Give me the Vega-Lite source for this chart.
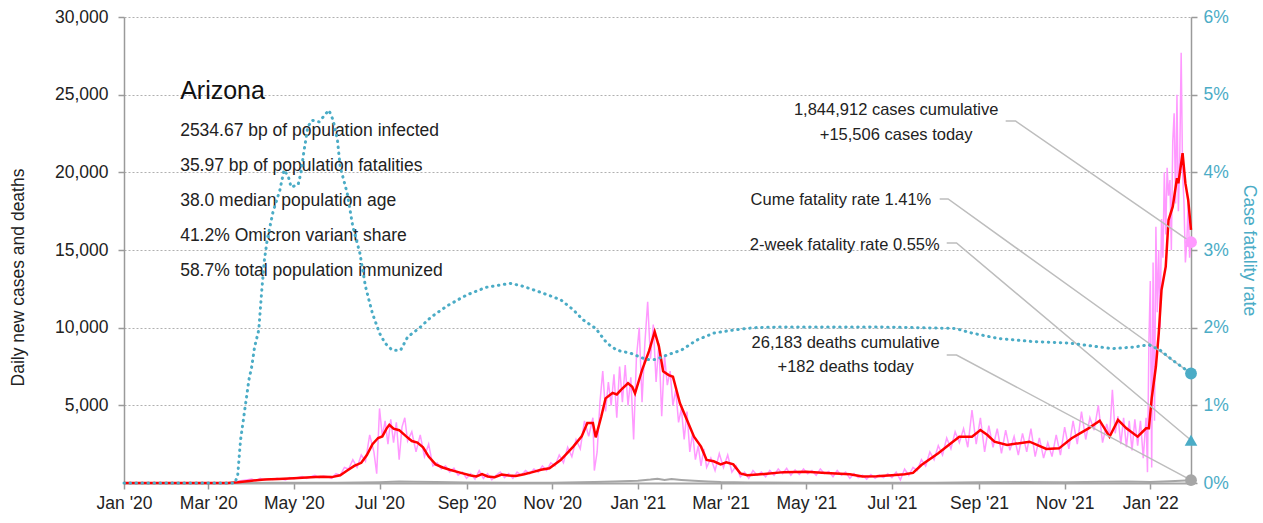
{
  "$schema": "https://vega.github.io/schema/vega-lite/v6.json",
  "width": 1067,
  "height": 466,
  "autosize": {"type": "none"},
  "padding": {"left": 124, "top": 17, "right": 72, "bottom": 40},
  "background": "white",
  "config": {
    "view": {"stroke": null},
    "font": "Liberation Sans, Arial, sans-serif",
    "axis": {"labelFont": "Liberation Sans, Arial, sans-serif", "titleFont": "Liberation Sans, Arial, sans-serif", "labelColor": "#222222", "titleColor": "#222222", "titleFontWeight": "normal"}
  },
  "datasets": {
    "cases": [
      {"d":"2020-01-01","v":0},{"d":"2020-03-12","v":0},{"d":"2020-03-16","v":10},{"d":"2020-03-20","v":40},{"d":"2020-03-24","v":150},{"d":"2020-03-28","v":200},{"d":"2020-04-01","v":250},{"d":"2020-04-04","v":150},{"d":"2020-04-07","v":300},{"d":"2020-04-10","v":200},{"d":"2020-04-13","v":280},{"d":"2020-04-16","v":220},{"d":"2020-04-19","v":300},{"d":"2020-04-22","v":250},{"d":"2020-04-25","v":200},{"d":"2020-04-28","v":350},{"d":"2020-05-01","v":280},{"d":"2020-05-04","v":350},{"d":"2020-05-07","v":420},{"d":"2020-05-10","v":300},{"d":"2020-05-13","v":400},{"d":"2020-05-16","v":500},{"d":"2020-05-19","v":350},{"d":"2020-05-22","v":450},{"d":"2020-05-25","v":400},{"d":"2020-05-28","v":300},{"d":"2020-05-31","v":600},{"d":"2020-06-03","v":500},{"d":"2020-06-06","v":1000},{"d":"2020-06-09","v":900},{"d":"2020-06-12","v":1500},{"d":"2020-06-15","v":1000},{"d":"2020-06-18","v":1800},{"d":"2020-06-21","v":1400},{"d":"2020-06-24","v":3100},{"d":"2020-06-27","v":2000},{"d":"2020-06-29","v":600},{"d":"2020-07-01","v":4800},{"d":"2020-07-03","v":3000},{"d":"2020-07-05","v":4000},{"d":"2020-07-07","v":2500},{"d":"2020-07-09","v":4100},{"d":"2020-07-11","v":2600},{"d":"2020-07-13","v":3900},{"d":"2020-07-15","v":1500},{"d":"2020-07-17","v":3600},{"d":"2020-07-19","v":4200},{"d":"2020-07-21","v":2700},{"d":"2020-07-24","v":3300},{"d":"2020-07-27","v":2000},{"d":"2020-07-30","v":3100},{"d":"2020-08-02","v":1700},{"d":"2020-08-05","v":2500},{"d":"2020-08-08","v":1100},{"d":"2020-08-11","v":1300},{"d":"2020-08-14","v":900},{"d":"2020-08-17","v":1100},{"d":"2020-08-20","v":700},{"d":"2020-08-23","v":950},{"d":"2020-08-26","v":500},{"d":"2020-08-29","v":700},{"d":"2020-09-01","v":300},{"d":"2020-09-04","v":600},{"d":"2020-09-07","v":250},{"d":"2020-09-10","v":800},{"d":"2020-09-13","v":300},{"d":"2020-09-16","v":600},{"d":"2020-09-19","v":200},{"d":"2020-09-22","v":500},{"d":"2020-09-25","v":700},{"d":"2020-09-28","v":350},{"d":"2020-10-01","v":600},{"d":"2020-10-04","v":300},{"d":"2020-10-07","v":700},{"d":"2020-10-10","v":500},{"d":"2020-10-13","v":800},{"d":"2020-10-16","v":600},{"d":"2020-10-19","v":900},{"d":"2020-10-22","v":700},{"d":"2020-10-25","v":1100},{"d":"2020-10-28","v":800},{"d":"2020-10-31","v":1300},{"d":"2020-11-03","v":1100},{"d":"2020-11-06","v":1800},{"d":"2020-11-09","v":1300},{"d":"2020-11-12","v":2300},{"d":"2020-11-15","v":1700},{"d":"2020-11-18","v":2800},{"d":"2020-11-21","v":2200},{"d":"2020-11-24","v":4000},{"d":"2020-11-27","v":3000},{"d":"2020-11-30","v":4200},{"d":"2020-12-01","v":800},{"d":"2020-12-03","v":2000},{"d":"2020-12-05","v":5200},{"d":"2020-12-07","v":7200},{"d":"2020-12-09","v":4600},{"d":"2020-12-11","v":6500},{"d":"2020-12-13","v":5000},{"d":"2020-12-15","v":7000},{"d":"2020-12-17","v":4200},{"d":"2020-12-19","v":7500},{"d":"2020-12-21","v":5200},{"d":"2020-12-23","v":7600},{"d":"2020-12-25","v":5000},{"d":"2020-12-27","v":6800},{"d":"2020-12-29","v":2800},{"d":"2020-12-31","v":8100},{"d":"2021-01-02","v":10000},{"d":"2021-01-04","v":5200},{"d":"2021-01-06","v":9000},{"d":"2021-01-08","v":11670},{"d":"2021-01-10","v":8000},{"d":"2021-01-12","v":10200},{"d":"2021-01-14","v":6500},{"d":"2021-01-16","v":9000},{"d":"2021-01-18","v":4300},{"d":"2021-01-20","v":8200},{"d":"2021-01-22","v":6300},{"d":"2021-01-24","v":7200},{"d":"2021-01-26","v":5000},{"d":"2021-01-28","v":6000},{"d":"2021-01-30","v":3900},{"d":"2021-02-01","v":4800},{"d":"2021-02-03","v":2800},{"d":"2021-02-05","v":4600},{"d":"2021-02-07","v":2000},{"d":"2021-02-09","v":3200},{"d":"2021-02-11","v":1500},{"d":"2021-02-13","v":2400},{"d":"2021-02-15","v":1100},{"d":"2021-02-17","v":2200},{"d":"2021-02-19","v":1000},{"d":"2021-02-22","v":1600},{"d":"2021-02-25","v":800},{"d":"2021-02-28","v":1900},{"d":"2021-03-03","v":1000},{"d":"2021-03-06","v":1800},{"d":"2021-03-09","v":700},{"d":"2021-03-12","v":1100},{"d":"2021-03-15","v":400},{"d":"2021-03-18","v":700},{"d":"2021-03-21","v":300},{"d":"2021-03-24","v":800},{"d":"2021-03-27","v":500},{"d":"2021-03-30","v":700},{"d":"2021-04-02","v":400},{"d":"2021-04-05","v":800},{"d":"2021-04-08","v":500},{"d":"2021-04-11","v":900},{"d":"2021-04-14","v":600},{"d":"2021-04-17","v":950},{"d":"2021-04-20","v":500},{"d":"2021-04-23","v":850},{"d":"2021-04-26","v":550},{"d":"2021-04-29","v":900},{"d":"2021-05-02","v":600},{"d":"2021-05-05","v":800},{"d":"2021-05-08","v":500},{"d":"2021-05-11","v":900},{"d":"2021-05-14","v":600},{"d":"2021-05-17","v":750},{"d":"2021-05-20","v":400},{"d":"2021-05-23","v":800},{"d":"2021-05-26","v":500},{"d":"2021-05-29","v":700},{"d":"2021-06-01","v":300},{"d":"2021-06-04","v":600},{"d":"2021-06-07","v":350},{"d":"2021-06-10","v":500},{"d":"2021-06-13","v":250},{"d":"2021-06-16","v":550},{"d":"2021-06-19","v":300},{"d":"2021-06-22","v":500},{"d":"2021-06-25","v":350},{"d":"2021-06-28","v":600},{"d":"2021-07-01","v":350},{"d":"2021-07-04","v":700},{"d":"2021-07-07","v":200},{"d":"2021-07-10","v":900},{"d":"2021-07-13","v":500},{"d":"2021-07-16","v":1000},{"d":"2021-07-19","v":800},{"d":"2021-07-22","v":1500},{"d":"2021-07-25","v":1100},{"d":"2021-07-28","v":2000},{"d":"2021-07-31","v":1500},{"d":"2021-08-03","v":2400},{"d":"2021-08-06","v":1800},{"d":"2021-08-09","v":2900},{"d":"2021-08-12","v":2200},{"d":"2021-08-15","v":3300},{"d":"2021-08-18","v":2600},{"d":"2021-08-21","v":3500},{"d":"2021-08-24","v":2300},{"d":"2021-08-27","v":4700},{"d":"2021-08-30","v":2500},{"d":"2021-09-02","v":4200},{"d":"2021-09-05","v":2000},{"d":"2021-09-08","v":3700},{"d":"2021-09-11","v":2300},{"d":"2021-09-14","v":3500},{"d":"2021-09-17","v":1900},{"d":"2021-09-20","v":3400},{"d":"2021-09-23","v":2100},{"d":"2021-09-26","v":3000},{"d":"2021-09-29","v":1800},{"d":"2021-10-02","v":3200},{"d":"2021-10-05","v":2000},{"d":"2021-10-08","v":3500},{"d":"2021-10-11","v":1700},{"d":"2021-10-14","v":2900},{"d":"2021-10-17","v":1600},{"d":"2021-10-20","v":2600},{"d":"2021-10-23","v":1700},{"d":"2021-10-26","v":3100},{"d":"2021-10-29","v":1800},{"d":"2021-11-01","v":3600},{"d":"2021-11-04","v":2200},{"d":"2021-11-07","v":4000},{"d":"2021-11-10","v":2500},{"d":"2021-11-13","v":4600},{"d":"2021-11-16","v":2800},{"d":"2021-11-19","v":4200},{"d":"2021-11-22","v":3400},{"d":"2021-11-25","v":5000},{"d":"2021-11-28","v":2600},{"d":"2021-12-01","v":3800},{"d":"2021-12-03","v":3000},{"d":"2021-12-05","v":6000},{"d":"2021-12-07","v":3200},{"d":"2021-12-09","v":4300},{"d":"2021-12-11","v":2500},{"d":"2021-12-13","v":4200},{"d":"2021-12-15","v":2300},{"d":"2021-12-17","v":4000},{"d":"2021-12-19","v":2100},{"d":"2021-12-21","v":4100},{"d":"2021-12-23","v":2400},{"d":"2021-12-25","v":4000},{"d":"2021-12-27","v":1600},{"d":"2021-12-29","v":4200},{"d":"2021-12-30","v":700},{"d":"2021-12-31","v":9000},{"d":"2022-01-01","v":13000},{"d":"2022-01-02","v":1000},{"d":"2022-01-03","v":14200},{"d":"2022-01-04","v":4000},{"d":"2022-01-05","v":16500},{"d":"2022-01-06","v":11000},{"d":"2022-01-07","v":15000},{"d":"2022-01-08","v":10000},{"d":"2022-01-09","v":17000},{"d":"2022-01-10","v":14500},{"d":"2022-01-11","v":20000},{"d":"2022-01-12","v":16000},{"d":"2022-01-13","v":20300},{"d":"2022-01-14","v":18500},{"d":"2022-01-15","v":19500},{"d":"2022-01-16","v":15000},{"d":"2022-01-17","v":22000},{"d":"2022-01-18","v":23800},{"d":"2022-01-19","v":18000},{"d":"2022-01-20","v":25000},{"d":"2022-01-21","v":17500},{"d":"2022-01-22","v":21000},{"d":"2022-01-23","v":27700},{"d":"2022-01-24","v":20000},{"d":"2022-01-25","v":18000},{"d":"2022-01-26","v":14200},{"d":"2022-01-27","v":15500},{"d":"2022-01-28","v":18000},{"d":"2022-01-29","v":14500},{"d":"2022-01-30","v":15506}
    ],
    "avg": [
      {"d":"2020-01-01","v":0},{"d":"2020-03-15","v":0},{"d":"2020-03-22","v":50},{"d":"2020-04-01","v":150},{"d":"2020-04-10","v":220},{"d":"2020-04-20","v":250},{"d":"2020-05-01","v":300},{"d":"2020-05-10","v":350},{"d":"2020-05-20","v":400},{"d":"2020-05-28","v":380},{"d":"2020-06-03","v":500},{"d":"2020-06-08","v":800},{"d":"2020-06-13","v":1100},{"d":"2020-06-18","v":1300},{"d":"2020-06-22","v":1800},{"d":"2020-06-26","v":2500},{"d":"2020-06-30","v":2900},{"d":"2020-07-03","v":3000},{"d":"2020-07-06","v":3500},{"d":"2020-07-08","v":3750},{"d":"2020-07-11","v":3500},{"d":"2020-07-15","v":3400},{"d":"2020-07-20","v":3000},{"d":"2020-07-24","v":2700},{"d":"2020-07-28","v":2600},{"d":"2020-08-01","v":2300},{"d":"2020-08-05","v":1700},{"d":"2020-08-10","v":1200},{"d":"2020-08-15","v":1000},{"d":"2020-08-20","v":850},{"d":"2020-08-28","v":650},{"d":"2020-09-04","v":480},{"d":"2020-09-08","v":420},{"d":"2020-09-12","v":570},{"d":"2020-09-16","v":420},{"d":"2020-09-21","v":370},{"d":"2020-09-26","v":540},{"d":"2020-10-01","v":480},{"d":"2020-10-06","v":450},{"d":"2020-10-12","v":560},{"d":"2020-10-18","v":700},{"d":"2020-10-24","v":850},{"d":"2020-10-30","v":950},{"d":"2020-11-07","v":1480},{"d":"2020-11-16","v":2340},{"d":"2020-11-22","v":3000},{"d":"2020-11-26","v":3860},{"d":"2020-11-30","v":3860},{"d":"2020-12-02","v":2940},{"d":"2020-12-06","v":4300},{"d":"2020-12-09","v":5450},{"d":"2020-12-14","v":5800},{"d":"2020-12-17","v":5700},{"d":"2020-12-20","v":6000},{"d":"2020-12-25","v":6420},{"d":"2020-12-28","v":6200},{"d":"2020-12-30","v":5770},{"d":"2021-01-04","v":7270},{"d":"2021-01-09","v":8500},{"d":"2021-01-13","v":9740},{"d":"2021-01-16","v":8800},{"d":"2021-01-19","v":7200},{"d":"2021-01-23","v":6950},{"d":"2021-01-26","v":6840},{"d":"2021-01-31","v":5130},{"d":"2021-02-05","v":4060},{"d":"2021-02-10","v":2980},{"d":"2021-02-15","v":2340},{"d":"2021-02-19","v":1480},{"d":"2021-02-24","v":1400},{"d":"2021-03-01","v":1200},{"d":"2021-03-05","v":1330},{"d":"2021-03-10","v":1200},{"d":"2021-03-15","v":620},{"d":"2021-03-20","v":500},{"d":"2021-04-01","v":580},{"d":"2021-04-15","v":700},{"d":"2021-05-01","v":720},{"d":"2021-05-15","v":650},{"d":"2021-06-01","v":560},{"d":"2021-06-10","v":420},{"d":"2021-06-20","v":430},{"d":"2021-07-01","v":500},{"d":"2021-07-10","v":560},{"d":"2021-07-16","v":650},{"d":"2021-07-22","v":1160},{"d":"2021-08-03","v":1910},{"d":"2021-08-12","v":2560},{"d":"2021-08-18","v":2980},{"d":"2021-08-27","v":2980},{"d":"2021-09-02","v":3410},{"d":"2021-09-07","v":3090},{"d":"2021-09-12","v":2660},{"d":"2021-09-21","v":2450},{"d":"2021-10-07","v":2660},{"d":"2021-10-19","v":2190},{"d":"2021-10-28","v":2230},{"d":"2021-11-06","v":2880},{"d":"2021-11-18","v":3520},{"d":"2021-11-26","v":4010},{"d":"2021-12-03","v":2980},{"d":"2021-12-09","v":4060},{"d":"2021-12-15","v":3520},{"d":"2021-12-23","v":2980},{"d":"2021-12-29","v":3520},{"d":"2021-12-31","v":3520},{"d":"2022-01-02","v":5450},{"d":"2022-01-05","v":7500},{"d":"2022-01-07","v":9600},{"d":"2022-01-09","v":12430},{"d":"2022-01-12","v":13930},{"d":"2022-01-14","v":16930},{"d":"2022-01-17","v":17790},{"d":"2022-01-20","v":19620},{"d":"2022-01-21","v":19300},{"d":"2022-01-24","v":21230},{"d":"2022-01-26","v":19300},{"d":"2022-01-28","v":18220},{"d":"2022-01-30","v":16300}
    ],
    "deaths": [
      {"d":"2020-01-01","v":0},{"d":"2020-03-20","v":0},{"d":"2020-04-15","v":10},{"d":"2020-06-01","v":20},{"d":"2020-07-01","v":50},{"d":"2020-07-15","v":90},{"d":"2020-07-25","v":80},{"d":"2020-08-10","v":60},{"d":"2020-09-01","v":30},{"d":"2020-10-01","v":15},{"d":"2020-11-01","v":20},{"d":"2020-12-01","v":60},{"d":"2020-12-15","v":100},{"d":"2021-01-01","v":150},{"d":"2021-01-10","v":220},{"d":"2021-01-15","v":280},{"d":"2021-01-20","v":190},{"d":"2021-01-25","v":250},{"d":"2021-02-01","v":200},{"d":"2021-02-10","v":150},{"d":"2021-02-20","v":100},{"d":"2021-03-01","v":60},{"d":"2021-03-20","v":30},{"d":"2021-05-01","v":15},{"d":"2021-07-01","v":10},{"d":"2021-08-01","v":20},{"d":"2021-09-01","v":50},{"d":"2021-10-01","v":60},{"d":"2021-11-01","v":50},{"d":"2021-12-01","v":80},{"d":"2021-12-15","v":90},{"d":"2022-01-01","v":60},{"d":"2022-01-15","v":110},{"d":"2022-01-30","v":182}
    ],
    "rate": [
      {"d":"2020-01-01","v":0},{"d":"2020-03-20","v":0},{"d":"2020-03-22","v":0.1},{"d":"2020-03-24","v":0.55},{"d":"2020-03-27","v":0.94},{"d":"2020-03-30","v":1.33},{"d":"2020-04-01","v":1.5},{"d":"2020-04-03","v":1.75},{"d":"2020-04-06","v":1.97},{"d":"2020-04-08","v":2.45},{"d":"2020-04-10","v":2.87},{"d":"2020-04-12","v":3.13},{"d":"2020-04-16","v":3.48},{"d":"2020-04-21","v":3.77},{"d":"2020-04-24","v":4.03},{"d":"2020-04-27","v":3.95},{"d":"2020-04-29","v":3.81},{"d":"2020-05-04","v":3.84},{"d":"2020-05-06","v":3.99},{"d":"2020-05-08","v":4.25},{"d":"2020-05-11","v":4.59},{"d":"2020-05-14","v":4.67},{"d":"2020-05-19","v":4.65},{"d":"2020-05-24","v":4.76},{"d":"2020-05-26","v":4.8},{"d":"2020-05-29","v":4.67},{"d":"2020-06-01","v":4.42},{"d":"2020-06-03","v":4.07},{"d":"2020-06-08","v":3.73},{"d":"2020-06-12","v":3.3},{"d":"2020-06-17","v":2.96},{"d":"2020-06-21","v":2.53},{"d":"2020-06-26","v":2.18},{"d":"2020-07-01","v":1.93},{"d":"2020-07-05","v":1.8},{"d":"2020-07-10","v":1.71},{"d":"2020-07-16","v":1.71},{"d":"2020-07-21","v":1.88},{"d":"2020-07-29","v":1.99},{"d":"2020-08-07","v":2.14},{"d":"2020-08-19","v":2.29},{"d":"2020-09-01","v":2.42},{"d":"2020-09-15","v":2.52},{"d":"2020-10-02","v":2.57},{"d":"2020-10-10","v":2.54},{"d":"2020-10-23","v":2.46},{"d":"2020-11-07","v":2.36},{"d":"2020-11-16","v":2.23},{"d":"2020-11-23","v":2.1},{"d":"2020-12-02","v":1.99},{"d":"2020-12-10","v":1.8},{"d":"2020-12-17","v":1.71},{"d":"2020-12-27","v":1.67},{"d":"2021-01-07","v":1.59},{"d":"2021-01-14","v":1.59},{"d":"2021-01-22","v":1.65},{"d":"2021-02-01","v":1.71},{"d":"2021-02-12","v":1.84},{"d":"2021-02-24","v":1.93},{"d":"2021-03-10","v":1.97},{"d":"2021-03-25","v":2.0},{"d":"2021-04-15","v":2.01},{"d":"2021-05-15","v":2.01},{"d":"2021-06-15","v":2.01},{"d":"2021-07-20","v":2.0},{"d":"2021-08-15","v":1.99},{"d":"2021-08-27","v":1.93},{"d":"2021-09-15","v":1.86},{"d":"2021-10-10","v":1.82},{"d":"2021-11-05","v":1.8},{"d":"2021-12-05","v":1.73},{"d":"2021-12-20","v":1.75},{"d":"2021-12-31","v":1.78},{"d":"2022-01-08","v":1.71},{"d":"2022-01-17","v":1.58},{"d":"2022-01-30","v":1.41}
    ],
    "leaders": [
      {"id":"a","s":1,"d":"2021-09-20","v":23305},{"id":"a","s":2,"d":"2021-09-27","v":23305},{"id":"a","s":3,"d":"2022-01-30","v":15506},
      {"id":"b","s":1,"d":"2021-08-04","v":18283},{"id":"b","s":2,"d":"2021-08-10","v":18283},{"id":"b","s":3,"d":"2022-01-30","v":7050},
      {"id":"c","s":1,"d":"2021-08-09","v":15451},{"id":"c","s":2,"d":"2021-08-16","v":15451},{"id":"c","s":3,"d":"2022-01-30","v":2750},
      {"id":"e","s":1,"d":"2021-08-09","v":8240},{"id":"e","s":2,"d":"2021-08-16","v":8240},{"id":"e","s":3,"d":"2022-01-30","v":182}
    ],
    "notes": [
      {"g":"title","d":"2020-02-10","v":25237,"t":"Arizona"},
      {"g":"stat","d":"2020-02-10","v":22662,"t":"2534.67 bp of population infected"},
      {"g":"stat","d":"2020-02-10","v":20408,"t":"35.97 bp of population fatalities"},
      {"g":"stat","d":"2020-02-10","v":18155,"t":"38.0 median population age"},
      {"g":"stat","d":"2020-02-10","v":15902,"t":"41.2% Omicron variant share"},
      {"g":"stat","d":"2020-02-10","v":13648,"t":"58.7% total population immunized"},
      {"g":"center","d":"2021-07-04","v":24013,"t":"1,844,912 cases cumulative"},
      {"g":"center","d":"2021-07-04","v":22403,"t":"+15,506 cases today"},
      {"g":"right","d":"2021-07-29","v":18219,"t":"Cume fatality rate 1.41%"},
      {"g":"right","d":"2021-08-04","v":15322,"t":"2-week fatality rate 0.55%"},
      {"g":"center","d":"2021-05-29","v":9013,"t":"26,183 deaths cumulative"},
      {"g":"center","d":"2021-05-29","v":7468,"t":"+182 deaths today"}
    ],
    "ends": [
      {"s":"cases","d":"2022-01-30","v":15506},
      {"s":"deaths","d":"2022-01-30","v":182}
    ],
    "rateEnds": [
      {"s":"cume","d":"2022-01-30","v":1.41},
      {"s":"twoweek","d":"2022-01-30","v":0.55}
    ]
  },
  "layer": [
    {
      "layer": [
        {
          "data": {"name": "cases"},
          "mark": {"type": "line", "color": "#ff99ff", "strokeWidth": 1.5},
          "encoding": {
            "x": {
              "field": "d", "type": "temporal",
              "scale": {"type": "utc", "domain": [{"year": 2020, "month": 1, "date": 1, "utc": true}, {"year": 2022, "month": 1, "date": 30, "utc": true}], "nice": false},
              "axis": {
                "title": null,
                "values": [
                  {"year": 2020, "month": 1, "date": 1, "utc": true}, {"year": 2020, "month": 3, "date": 1, "utc": true}, {"year": 2020, "month": 5, "date": 1, "utc": true}, {"year": 2020, "month": 7, "date": 1, "utc": true}, {"year": 2020, "month": 9, "date": 1, "utc": true}, {"year": 2020, "month": 11, "date": 1, "utc": true},
                  {"year": 2021, "month": 1, "date": 1, "utc": true}, {"year": 2021, "month": 3, "date": 1, "utc": true}, {"year": 2021, "month": 5, "date": 1, "utc": true}, {"year": 2021, "month": 7, "date": 1, "utc": true}, {"year": 2021, "month": 9, "date": 1, "utc": true}, {"year": 2021, "month": 11, "date": 1, "utc": true},
                  {"year": 2022, "month": 1, "date": 1, "utc": true}
                ],
                "labelExpr": "utcFormat(datum.value, \"%b '%y\")",
                "labelFontSize": 17.5, "labelPadding": 5, "tickSize": 6, "tickColor": "#9a9a9a", "tickWidth": 1.5,
                "domainColor": "#a6a6a6", "domainWidth": 2, "grid": false, "labelFlush": false, "labelOverlap": false
              }
            },
            "y": {
              "field": "v", "type": "quantitative",
              "scale": {"domain": [0, 30000], "nice": false},
              "axis": {
                "orient": "left",
                "title": "Daily new cases and deaths", "titleFontSize": 17.5, "titleAngle": -90, "titleBaseline": "middle", "titleX": -106, "titleY": 260,
                "values": [5000, 10000, 15000, 20000, 25000, 30000], "format": ",d",
                "labelFontSize": 17.5, "labelPadding": 10, "tickSize": 6, "tickColor": "#9a9a9a", "tickWidth": 1.5,
                "domainColor": "#9a9a9a", "domainWidth": 1.5,
                "grid": true, "gridColor": "#b0b0b0", "gridDash": [2, 2], "gridWidth": 1
              }
            }
          }
        },
        {
          "data": {"name": "deaths"},
          "mark": {"type": "line", "color": "#a6a6a6", "strokeWidth": 2},
          "encoding": {
            "x": {"field": "d", "type": "temporal"},
            "y": {"field": "v", "type": "quantitative"}
          }
        },
        {
          "data": {"name": "avg"},
          "mark": {"type": "line", "color": "#ff0000", "strokeWidth": 2.5},
          "encoding": {
            "x": {"field": "d", "type": "temporal"},
            "y": {"field": "v", "type": "quantitative"}
          }
        },
        {
          "data": {"name": "leaders"},
          "mark": {"type": "line", "color": "#bdbdbd", "strokeWidth": 1.5},
          "encoding": {
            "x": {"field": "d", "type": "temporal"},
            "y": {"field": "v", "type": "quantitative"},
            "detail": {"field": "id"},
            "order": {"field": "s"}
          }
        },
        {
          "data": {"name": "ends"},
          "transform": [{"filter": "datum.s == 'cases'"}],
          "mark": {"type": "point", "filled": true, "opacity": 1, "color": "#ff99ff", "size": 140},
          "encoding": {
            "x": {"field": "d", "type": "temporal"},
            "y": {"field": "v", "type": "quantitative"}
          }
        },
        {
          "data": {"name": "ends"},
          "transform": [{"filter": "datum.s == 'deaths'"}],
          "mark": {"type": "point", "filled": true, "opacity": 1, "color": "#a6a6a6", "size": 140},
          "encoding": {
            "x": {"field": "d", "type": "temporal"},
            "y": {"field": "v", "type": "quantitative"}
          }
        },
        {
          "data": {"name": "notes"},
          "transform": [{"filter": "datum.g == 'title'"}],
          "mark": {"type": "text", "align": "left", "baseline": "middle", "fontSize": 25, "color": "#111111"},
          "encoding": {
            "x": {"field": "d", "type": "temporal"},
            "y": {"field": "v", "type": "quantitative"},
            "text": {"field": "t"}
          }
        },
        {
          "data": {"name": "notes"},
          "transform": [{"filter": "datum.g == 'stat'"}],
          "mark": {"type": "text", "align": "left", "baseline": "middle", "fontSize": 17.5, "color": "#222222"},
          "encoding": {
            "x": {"field": "d", "type": "temporal"},
            "y": {"field": "v", "type": "quantitative"},
            "text": {"field": "t"}
          }
        },
        {
          "data": {"name": "notes"},
          "transform": [{"filter": "datum.g == 'center'"}],
          "mark": {"type": "text", "align": "center", "baseline": "middle", "fontSize": 16.5, "color": "#222222"},
          "encoding": {
            "x": {"field": "d", "type": "temporal"},
            "y": {"field": "v", "type": "quantitative"},
            "text": {"field": "t"}
          }
        },
        {
          "data": {"name": "notes"},
          "transform": [{"filter": "datum.g == 'right'"}],
          "mark": {"type": "text", "align": "right", "baseline": "middle", "fontSize": 16.5, "color": "#222222"},
          "encoding": {
            "x": {"field": "d", "type": "temporal"},
            "y": {"field": "v", "type": "quantitative"},
            "text": {"field": "t"}
          }
        }
      ]
    },
    {
      "layer": [
        {
          "data": {"name": "rate"},
          "mark": {"type": "line", "color": "#4bacc6", "strokeWidth": 3, "strokeDash": [0.5, 5.5], "strokeCap": "round"},
          "encoding": {
            "x": {"field": "d", "type": "temporal"},
            "y": {
              "field": "v", "type": "quantitative",
              "scale": {"domain": [0, 6], "nice": false},
              "axis": {
                "orient": "right",
                "title": "Case fatality rate", "titleColor": "#4bacc6", "titleFontSize": 17.5, "titleAngle": 90, "titleBaseline": "middle", "titleX": 57, "titleY": 233,
                "values": [0, 1, 2, 3, 4, 5, 6], "labelExpr": "datum.value + '%'",
                "labelColor": "#4bacc6", "labelFontSize": 17.5, "labelPadding": 6, "tickSize": 6, "tickColor": "#9a9a9a", "tickWidth": 1.5,
                "domainColor": "#9a9a9a", "domainWidth": 1.5, "grid": false
              }
            }
          }
        },
        {
          "data": {"name": "rateEnds"},
          "transform": [{"filter": "datum.s == 'cume'"}],
          "mark": {"type": "point", "filled": true, "opacity": 1, "color": "#4bacc6", "size": 140},
          "encoding": {
            "x": {"field": "d", "type": "temporal"},
            "y": {"field": "v", "type": "quantitative"}
          }
        },
        {
          "data": {"name": "rateEnds"},
          "transform": [{"filter": "datum.s == 'twoweek'"}],
          "mark": {"type": "point", "shape": "triangle-up", "filled": true, "opacity": 1, "color": "#4bacc6", "size": 160},
          "encoding": {
            "x": {"field": "d", "type": "temporal"},
            "y": {"field": "v", "type": "quantitative"}
          }
        }
      ]
    }
  ],
  "resolve": {"scale": {"y": "independent"}}
}
